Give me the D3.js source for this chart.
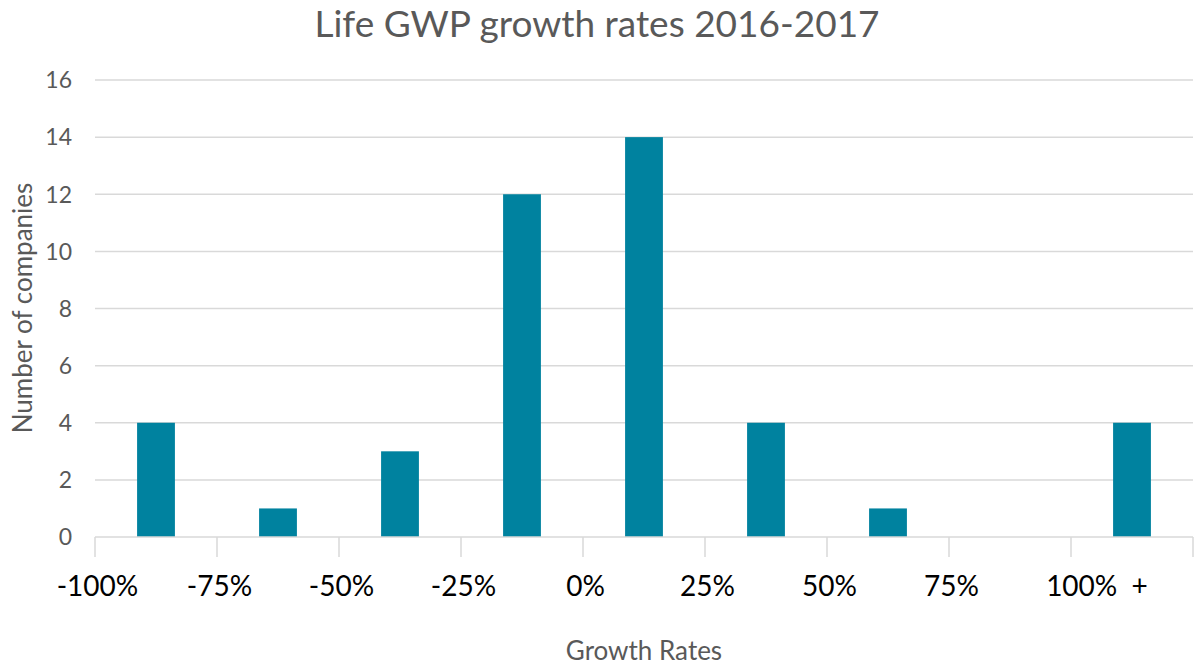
<!DOCTYPE html>
<html><head><meta charset="utf-8">
<script src="https://cdn.jsdelivr.net/npm/d3@7"></script>
<style>body{margin:0;background:#fff}svg{display:block}text{font-family:Lato,"Open Sans",sans-serif}</style>
</head><body>
<svg id="c" width="1195" height="665"></svg>
<script>
const categories = ["-100% to -75%","-75% to -50%","-50% to -25%","-25% to 0%","0% to 25%","25% to 50%","50% to 75%","75% to 100%","100% +"];
const counts = [4, 1, 3, 12, 14, 4, 1, 0, 4];
const xTickLabels = ["-100%","-75%","-50%","-25%","0%","25%","50%","75%","100%  +"];
const yTicks = [0, 2, 4, 6, 8, 10, 12, 14, 16];

const svg = d3.select("#c");
const L = 95, R = 1193, T = 80, B = 537;
const x = d3.scaleBand().domain(categories).range([L, R]).paddingInner(0.69).paddingOuter(0.345);
const xb = d3.scaleLinear().domain([0, categories.length]).range([L, R]);
const y = d3.scaleLinear().domain([0, 16]).range([B, T]);

// gridlines
svg.append("g").selectAll("line").data(yTicks.filter(d => d > 0)).join("line")
  .attr("x1", L).attr("x2", R).attr("y1", d => y(d)).attr("y2", d => y(d))
  .attr("stroke", "#d9d9d9").attr("stroke-width", 1.5);

// y tick labels
svg.append("g").selectAll("text").data(yTicks).join("text")
  .attr("x", 72).attr("y", d => y(d)).attr("dy", "0.36em")
  .attr("text-anchor", "end").attr("fill", "#595959").attr("font-size", 23)
  .text(d => d);

// bars
svg.append("g").selectAll("rect").data(counts).join("rect")
  .attr("x", (d, i) => x(categories[i])).attr("width", x.bandwidth())
  .attr("y", d => y(d)).attr("height", d => y(0) - y(d))
  .attr("fill", "#00829f");

// x axis line and ticks
svg.append("line").attr("x1", L).attr("x2", R).attr("y1", B).attr("y2", B)
  .attr("stroke", "#d9d9d9").attr("stroke-width", 1.5);
svg.append("g").selectAll("line").data(d3.range(categories.length + 1)).join("line")
  .attr("x1", d => xb(d)).attr("x2", d => xb(d)).attr("y1", B).attr("y2", B + 20)
  .attr("stroke", "#d9d9d9").attr("stroke-width", 1.5);

// x tick labels
svg.append("g").selectAll("text").data(xTickLabels).join("text")
  .attr("x", (d, i) => xb(i)).attr("y", 596)
  .attr("dx", (d, i) => i === xTickLabels.length - 1 ? 26 : 2.5)
  .attr("text-anchor", "middle").attr("fill", "#000").attr("font-size", 28)
  .attr("xml:space", "preserve").style("white-space", "pre")
  .text(d => d);

// title
svg.append("text").attr("x", 597).attr("y", 37).attr("text-anchor", "middle")
  .attr("fill", "#595959").attr("font-size", 37).text("Life GWP growth rates 2016-2017");

// axis titles
svg.append("text").attr("x", 644).attr("y", 660).attr("text-anchor", "middle")
  .attr("fill", "#595959").attr("font-size", 26).text("Growth Rates");
svg.append("text").attr("transform", "translate(32,308) rotate(-90)").attr("text-anchor", "middle")
  .attr("fill", "#595959").attr("font-size", 26).text("Number of companies");
</script>
</body></html>
